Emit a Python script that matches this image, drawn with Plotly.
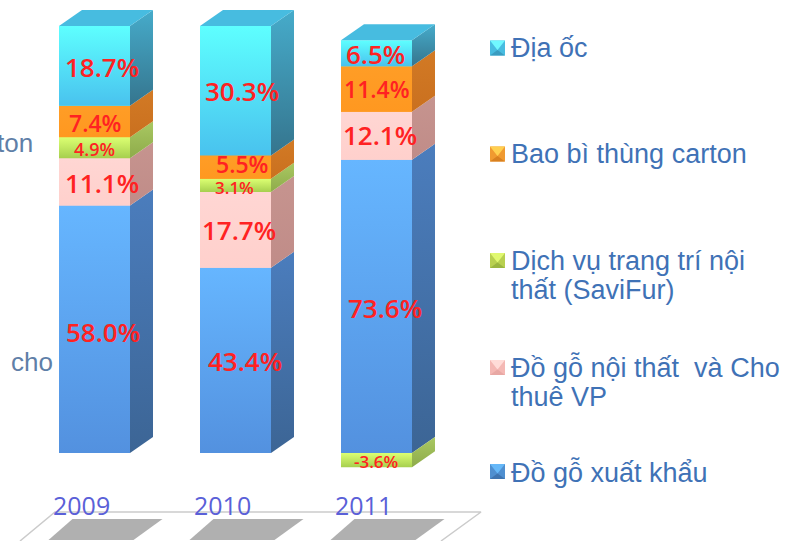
import plotly.graph_objects as go

# ---------- data ----------
years = ["2009", "2010", "2011"]
series_names = ["Đồ gỗ xuất khẩu", "Đồ gỗ nội thất  và Cho|thuê VP",
                "Dịch vụ trang trí nội|thất (SaviFur)", "Bao bì thùng carton", "Địa ốc"]
do_go_xuat_khau = [58.0, 43.4, 73.6]
do_go_noi_that = [11.1, 17.7, 12.1]
dich_vu = [4.9, 3.1, -3.6]
bao_bi = [7.4, 5.5, 11.4]
dia_oc = [18.7, 30.3, 6.5]
all_series = [do_go_xuat_khau, do_go_noi_that, dich_vu, bao_bi, dia_oc]

# ---------- style ----------
W, H = 787, 541
PX_X, PX_Y = 141.0, 4.27          # pixels per x unit / per percent
X0_PX, Y0_PX = 94.5, 453.0        # pixel position of x=0, y=0
BAR_W = 71 / PX_X
DX, DY = 23 / PX_X, 16 / PX_Y     # 3-D depth
front = [("#66b6ff", "#5391df"), ("#ffd6d3", "#ffd0cc"), ("#dcff72", "#a6cf4e"),
         ("#ff9d26", "#ff9820"), ("#5effff", "#49c2ee")]
side = [("#4b7dbd", "#3c6595"), ("#c6948f", "#c08c88"), ("#a9c862", "#8eab4a"),
        ("#d27a25", "#ca701f"), ("#46abca", "#35758e")]
top_face = "#47bce0"
label_font = [[26, 26, 26], [26, 26, 26], [18, 17, 17], [23, 23, 23], [26, 26, 26]]
nudge = [[(8, 3), (9, 1), (8, 2)], [(7, 1), (3, 0), (3, -1)], [(0, 1), (-1, 2), (-1, 1)],
         [(0, 1), (6, -3), (0, 0)], [(7, 1), (6, 0), (-1, 1)]]
legend_y = [472, (367, 397), (261, 290), 154, 48]
marker_y = [471.5, 367.5, 260.5, 154, 48]
marker_cols = [("#66b8f8", "#4f8fd0", "#3f74b0"), ("#ffdcd8", "#f4b8b4", "#e8a8a4"),
               ("#e0f870", "#b8d050", "#9ab540"), ("#ffd050", "#f09a30", "#d88020"),
               ("#70f8ff", "#48bce0", "#3a9cc0")]
TXT = "#3f72b6"

fig = go.Figure()

# normalised to the sum of absolute values (100 % stacked chart)
totals = [sum(abs(s[i]) for s in all_series) for i in range(3)]
norm = [[s[i] / totals[i] * 100 for i in range(3)] for s in all_series]


def poly(xs, ys, c1, c2=None):
    kw = dict(fillcolor=c1) if c2 is None else dict(
        fillgradient=dict(type="vertical", colorscale=[[0, c2], [1, c1]]))
    fig.add_trace(go.Scatter(x=xs + xs[:1], y=ys + ys[:1], mode="lines", fill="toself",
                             line=dict(width=0), hoverinfo="skip", showlegend=False, **kw))


# floor + shadows
fl = lambda p: (p - X0_PX) / PX_X
fy = lambda p: (Y0_PX - p) / PX_Y
fig.add_trace(go.Scatter(x=[fl(20), fl(55), fl(481), fl(441)], y=[fy(541), fy(512), fy(512), fy(541)],
                         mode="lines", line=dict(color="#cbcbcb", width=1.5), hoverinfo="skip", showlegend=False))
for i in range(3):
    poly([i - 46 / PX_X, i - 22 / PX_X, i + 68 / PX_X, i + 39 / PX_X],
         [fy(540), fy(519), fy(519), fy(540)], "#b0b0b0")

# front faces: real stacked bars
for s, name, col in zip(norm, series_names, front):
    fig.add_trace(go.Bar(x=[0, 1, 2], y=s, width=BAR_W, name=name.replace("|", " "),
                         marker=dict(color=col[0], line=dict(width=0)), showlegend=False))

# gradients and side / top faces computed from the stack
for i in range(3):
    pos, neg = 0.0, 0.0
    xl, xr = i - BAR_W / 2, i + BAR_W / 2
    for k, s in enumerate(norm):
        v = s[i]
        if v >= 0:
            y0, y1 = pos, pos + v
            pos = y1
        else:
            y0, y1 = neg + v, neg
            neg = y0
        poly([xr, xr + DX, xr + DX, xr], [y0, y0 + DY, y1 + DY, y1], side[k][0], side[k][1])
        poly([xl, xr, xr, xl], [y0, y0, y1, y1], front[k][0], front[k][1])
        mid = (y0 + y1) / 2
        dx_, dy_ = nudge[k][i]
        fig.add_annotation(x=i, y=mid, text=f"{all_series[k][i]:.1f}%", showarrow=False, xshift=dx_, yshift=-dy_,
                           font=dict(family="Open Sans", size=label_font[k][i], color="#ff2222", weight=600))
    poly([xl, xl + DX, xr + DX, xr], [pos, pos + DY, pos + DY, pos], top_face)

# category labels
for i, yr in enumerate(years):
    fig.add_annotation(x=i, y=fy(505), text=yr, showarrow=False, xshift=-13,
                       font=dict(family="Open Sans", size=25, color="#5a60d8"))

# legend
shapes = []
for k, name in enumerate(series_names):
    lines = name.split("|")
    ys = legend_y[k] if isinstance(legend_y[k], tuple) else (legend_y[k],)
    for line, yy in zip(lines, ys):
        fig.add_annotation(xref="paper", yref="paper", x=508.5 / W, y=1 - yy / H, xanchor="left", yanchor="middle",
                           showarrow=False, text=line.replace("  ", "\u00a0 "),
                           font=dict(family="Liberation Sans", size=27, color=TXT))
    x0, x1 = 490, 505
    yc = marker_y[k]
    t, b = yc - 7.5, yc + 7.5
    c_top, c_mid, c_bot = marker_cols[k]
    px = lambda x, y: f"{x / W} {1 - y / H}"
    for pts, c in [([(x0, t), (x1, t), (x1, b), (x0, b)], c_mid),
                   ([(x0, t), (x1, t), ((x0 + x1) / 2, yc + 2)], c_top),
                   ([(x0, b), (x1, b), ((x0 + x1) / 2, yc + 2)], c_bot)]:
        shapes.append(dict(type="path", xref="paper", yref="paper", fillcolor=c, line=dict(width=0), layer="above",
                           path="M " + " L ".join(px(*p) for p in pts) + " Z"))

# partly cut-off text at the left edge
for txt, xx, yy in [("ton", 35, 143), ("cho", 55, 362)]:
    fig.add_annotation(xref="paper", yref="paper", x=xx / W, y=1 - yy / H, xanchor="right", yanchor="middle",
                       showarrow=False, text=txt, font=dict(family="Liberation Sans", size=26, color="#5f7fa8"))

fig.update_layout(
    width=W, height=H, barmode="stack", margin=dict(l=0, r=0, t=0, b=0),
    paper_bgcolor="white", plot_bgcolor="white", showlegend=False, shapes=shapes,
    xaxis=dict(range=[fl(0), fl(W)], visible=False, fixedrange=True),
    yaxis=dict(range=[fy(H), fy(0)], visible=False, fixedrange=True),
)
fig.write_html("out.html", config={"displayModeBar": False},
               post_script="document.body.style.margin='0';document.body.style.overflow='hidden';")
